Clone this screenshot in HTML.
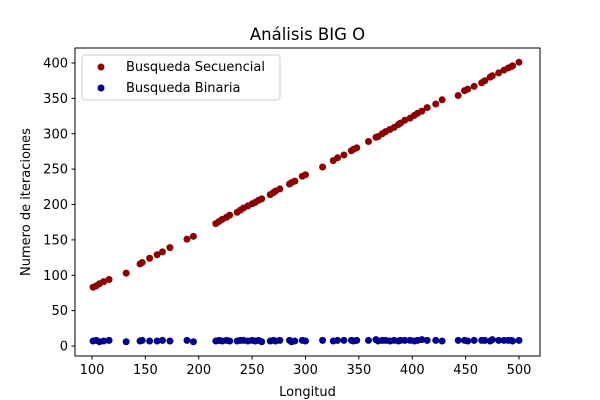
<!DOCTYPE html>
<html><head><meta charset="utf-8"><style>
body{margin:0;background:#fff;}
svg{display:block;font-family:"DejaVu Sans","Liberation Sans",sans-serif;}
</style></head><body>
<svg id="chart" width="600" height="400">
<rect x="0" y="0" width="600" height="400" fill="#fff"/>
<text x="307.5" y="40" font-size="16.5" text-anchor="middle">Análisis BIG O</text>
<g id="plot"></g>
<rect x="75" y="48" width="465" height="308" fill="none" stroke="#000" stroke-width="1"/>
<g id="xticks"></g>
<g id="yticks"></g>
<text x="307.5" y="396" font-size="13" text-anchor="middle">Longitud</text>
<text transform="translate(30,202) rotate(-90)" font-size="13" text-anchor="middle">Numero de iteraciones</text>
<g>
<rect x="82" y="55" width="198" height="45" rx="3" fill="#fff" fill-opacity="0.8" stroke="#ccc"/>
<g><circle cx="101" cy="67" r="3.5" fill="#8b0000"/><text x="126" y="71" font-size="13">Busqueda Secuencial</text></g>
<g><circle cx="101" cy="88" r="3.5" fill="#00008b"/><text x="126" y="92" font-size="13">Busqueda Binaria</text></g>
</g>
</svg>
<script>
const lengths=[101,104,107,111,116,132,145,147,154,161,166,173,189,195,216,219,222,226,229,236,239,242,246,250,253,256,259,267,270,272,276,285,287,290,297,300,316,326,330,336,343,345,348,359,366,368,372,375,379,383,387,389,393,398,402,405,409,414,422,428,443,449,452,458,465,468,473,475,481,486,490,493,494,500];
const seqIters=[83,85,88,91,94,103,116,118,124,129,133,139,151,155,173,176,179,182,185,189,192,195,198,201,203,206,208,214,217,219,222,229,231,233,240,242,253,262,266,270,276,278,280,289,295,296,300,303,306,309,313,315,319,322,326,329,332,337,342,348,354,361,363,367,372,375,380,382,386,390,393,395,396,401];
const binIters=[7,8,6,7,8,6,7,8,7,7,8,7,8,6,7,8,7,8,7,7,8,8,7,8,7,8,6,7,8,7,8,8,6,7,8,7,8,7,8,8,8,7,8,8,9,7,8,8,7,8,7,8,8,8,7,8,9,8,8,7,8,8,7,8,8,8,7,9,8,8,8,8,7,8];
const xTicks=[100,150,200,250,300,350,400,450,500];
const yTicks=[0,50,100,150,200,250,300,350,400];
const ns="http://www.w3.org/2000/svg";
const X=v=>92+(v-100)*1.0675;
const Y=v=>346-v*0.7075;
function mk(t,a){const e=document.createElementNS(ns,t);for(const k in a)e.setAttribute(k,a[k]);return e;}
const plot=document.getElementById('plot');
lengths.forEach((l,i)=>{
 const c=mk('circle',{cx:X(l),cy:Y(seqIters[i]),r:3.5,fill:'#8b0000'});
 
 
 plot.appendChild(c);
});
lengths.forEach((l,i)=>{
 const c=mk('circle',{cx:X(l),cy:Y(binIters[i]),r:3.5,fill:'#00008b'});
 
 
 plot.appendChild(c);
});
const xg=document.getElementById('xticks');
xTicks.forEach(v=>{
 const g=mk('g',{});
 
 
 g.appendChild(mk('line',{x1:X(v),x2:X(v),y1:356,y2:359.5,stroke:'#000'}));
 const t=mk('text',{x:X(v),y:374,'font-size':13,'text-anchor':'middle'});t.textContent=v;g.appendChild(t);
 xg.appendChild(g);
});
const yg=document.getElementById('yticks');
yTicks.forEach(v=>{
 const g=mk('g',{});
 
 
 g.appendChild(mk('line',{x1:71.5,x2:75,y1:Y(v),y2:Y(v),stroke:'#000'}));
 const t=mk('text',{x:68,y:Y(v)+4.5,'font-size':13,'text-anchor':'end'});t.textContent=v;g.appendChild(t);
 yg.appendChild(g);
});
</script>
</body></html>
